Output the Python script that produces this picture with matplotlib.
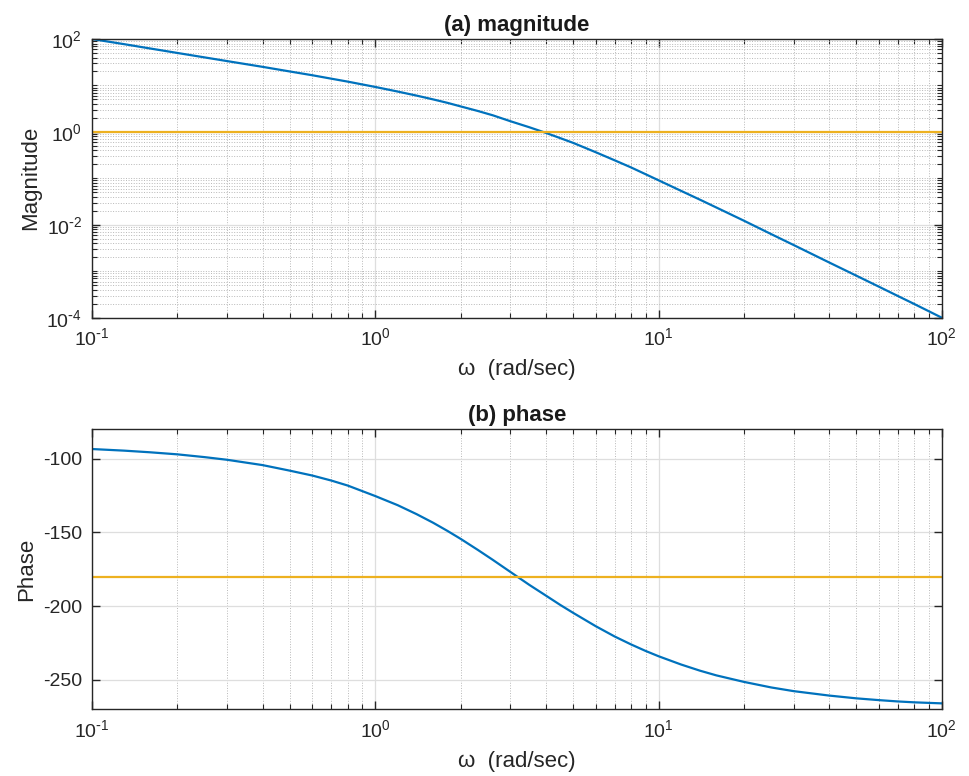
import numpy as np
import matplotlib.pyplot as plt
from matplotlib.ticker import FixedLocator, LogLocator, NullFormatter, FuncFormatter

# values (estimated along the curves)
mag_w = [0.1, 0.13, 0.16, 0.2, 0.25, 0.3, 0.4, 0.5, 0.6, 0.7, 0.8, 1.0, 1.2,
         1.4, 1.6, 1.8, 2.0, 2.3, 2.6, 3.0, 3.5, 4.0, 4.5, 5.0, 6.0, 7.0, 8.0,
         9.0, 10.0, 12.0, 14.0, 16.0, 20.0, 25.0, 30.0, 40.0, 50.0, 60.0,
         70.0, 80.0, 100.0]
mag_val = [100, 77.5, 62.8, 50.2, 40.2, 33.5, 25.2, 20.0, 16.6, 14.0, 12.1,
           9.3, 7.4, 6.05, 5.02, 4.22, 3.55, 2.83, 2.28, 1.7, 1.26, 0.955,
           0.735, 0.58, 0.366, 0.245, 0.172, 0.123, 0.091, 0.054, 0.0348,
           0.0236, 0.0123, 0.0063, 0.00367, 0.00155, 0.0008, 0.000465,
           0.000293, 0.000197, 0.0001]

phase_w = [0.1, 0.13, 0.16, 0.2, 0.25, 0.3, 0.4, 0.5, 0.6, 0.7, 0.8, 1.0,
           1.2, 1.4, 1.6, 1.8, 2.0, 2.3, 2.6, 3.0, 3.5, 4.0, 4.5, 5.0, 6.0,
           7.0, 8.0, 9.0, 10.0, 12.0, 14.0, 16.0, 20.0, 25.0, 30.0, 40.0,
           50.0, 60.0, 70.0, 80.0, 100.0]
phase_val = [-93.4, -94.5, -95.6, -97.0, -98.9, -100.7, -104.3, -108.1,
             -111.4, -114.8, -118.2, -125.3, -131.5, -137.6, -143.4, -149.0,
             -154.3, -161.8, -168.6, -176.8, -185.6, -192.8, -199.2, -204.6,
             -213.6, -220.6, -226.0, -230.4, -234.0, -239.6, -243.8, -247.0,
             -251.4, -255.2, -257.7, -260.7, -262.6, -263.8, -264.7, -265.3,
             -266.0]

ref_w = [0.1, 100.0]
mag_ref = [1.0, 1.0]
phase_ref = [-180.0, -180.0]

blue = '#0072BD'
gold = '#EDB120'
dark = '#262626'

plt.rcParams['font.family'] = ['Liberation Sans', 'DejaVu Sans']
plt.rcParams['axes.unicode_minus'] = False


def pow10(v, pos):
    # 10^n labels with a plain hyphen like matlab draws them
    e = int(round(np.log10(v)))
    if e < 0:
        return r'$\mathdefault{10^{\text{-}%d}}$' % (-e)
    return r'$\mathdefault{10^{%d}}$' % e


fig = plt.figure(figsize=(9.69, 7.76), dpi=100)
ax1 = fig.add_axes([0.0949, 0.5906, 0.877, 0.3591])
ax2 = fig.add_axes([0.0949, 0.0860, 0.877, 0.3608])

# (a) magnitude
ax1.loglog(mag_w, mag_val, color=blue, lw=1.6)
ax1.loglog(ref_w, mag_ref, color=gold, lw=1.6)
ax1.set_xlim(0.1, 100)
ax1.set_ylim(1e-4, 1e2)
ax1.yaxis.set_major_locator(FixedLocator([1e-4, 1e-2, 1, 1e2]))
ax1.yaxis.set_minor_locator(LogLocator(base=10, subs=np.arange(1, 10), numticks=100))
ax1.yaxis.set_minor_formatter(NullFormatter())
ax1.yaxis.set_major_formatter(FuncFormatter(pow10))
ax1.xaxis.set_minor_locator(LogLocator(base=10, subs=np.arange(2, 10), numticks=100))
ax1.xaxis.set_minor_formatter(NullFormatter())
ax1.xaxis.set_major_formatter(FuncFormatter(pow10))
ax1.grid(which='major', color='#dedede', lw=0.9, ls='-')
ax1.grid(which='minor', color='#b8b8b8', lw=0.7, ls=':')
ax1.set_title('(a) magnitude', fontweight='bold', fontsize=16, pad=6, color='#1a1a1a')
ax1.set_ylabel('Magnitude', fontsize=16, color=dark, labelpad=4)
ax1.set_xlabel('ω  (rad/sec)', fontsize=16, color=dark, labelpad=7)

# (b) phase
ax2.semilogx(phase_w, phase_val, color=blue, lw=1.6)
ax2.semilogx(ref_w, phase_ref, color=gold, lw=1.6)
ax2.set_xlim(0.1, 100)
ax2.set_ylim(-270, -80)
ax2.set_yticks([-250, -200, -150, -100])
ax2.xaxis.set_minor_locator(LogLocator(base=10, subs=np.arange(2, 10), numticks=100))
ax2.xaxis.set_minor_formatter(NullFormatter())
ax2.xaxis.set_major_formatter(FuncFormatter(pow10))
ax2.grid(which='major', color='#dedede', lw=0.9, ls='-')
ax2.grid(which='minor', axis='x', color='#b8b8b8', lw=0.7, ls=':')
ax2.set_title('(b) phase', fontweight='bold', fontsize=16, pad=6, color='#1a1a1a')
ax2.set_ylabel('Phase', fontsize=16, color=dark, labelpad=4)
ax2.set_xlabel('ω  (rad/sec)', fontsize=16, color=dark, labelpad=7)

for ax in (ax1, ax2):
    ax.set_axisbelow(True)
    ax.tick_params(which='both', direction='in', top=True, right=True,
                   colors=dark, labelsize=14, pad=7)
    ax.tick_params(which='major', length=6, width=1.0)
    ax.tick_params(which='minor', length=3.5, width=0.8)
    for s in ax.spines.values():
        s.set_color(dark)
        s.set_linewidth(1.0)

fig.savefig('out.png', dpi=100)
